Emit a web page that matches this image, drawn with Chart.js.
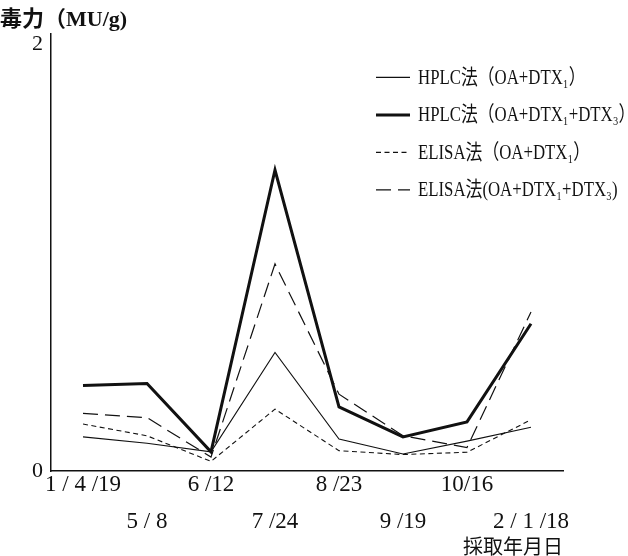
<!DOCTYPE html>
<html>
<head>
<meta charset="utf-8">
<script src="https://cdn.jsdelivr.net/npm/chart.js@4/dist/chart.umd.min.js"></script>
<style>
  html, body { margin: 0; padding: 0; background: #fff; }
  #wrap { width: 628px; height: 556px; }
</style>
</head>
<body>
<div id="wrap"><canvas id="chart" width="628" height="556"></canvas></div>
<script>
const dates = ["1 / 4 /19", "5 / 8", "6 /12", "7 /24", "8 /23", "9 /19", "10/16", "2 / 1 /18"];
const hplcOa = [0.16, 0.13, 0.09, 0.555, 0.15, 0.08, 0.14, 0.205];
const hplcOaDtx3 = [0.40, 0.41, 0.09, 1.41, 0.30, 0.16, 0.23, 0.69];
const elisaOa = [0.22, 0.165, 0.045, 0.29, 0.095, 0.077, 0.088, 0.24];
const elisaOaDtx3 = [0.27, 0.25, 0.065, 0.97, 0.36, 0.165, 0.11, 0.745];
const yTicks = [0, 2];

const serif = '"Liberation Serif", "DejaVu Serif", "Noto Sans CJK JP", serif';
const ink = "#111";

// legend drawn in the upper right of the plot, one row per dataset
const sideLegend = {
  id: "sideLegend",
  afterDraw(chart) {
    const ctx = chart.ctx;
    const area = chart.chartArea;
    const x0 = area.left + 325;
    const y0 = area.top + 44;
    const rowGap = 37.5;
    chart.data.datasets.forEach((ds, i) => {
      const y = y0 + i * rowGap;
      ctx.save();
      ctx.strokeStyle = ink;
      ctx.lineWidth = ds.borderWidth;
      ctx.setLineDash(ds.borderDash || []);
      ctx.beginPath();
      ctx.moveTo(x0, y);
      ctx.lineTo(x0 + 34, y);
      ctx.stroke();
      ctx.setLineDash([]);
      ctx.translate(x0 + 42, y);
      ctx.scale(0.8, 1);
      ctx.fillStyle = ink;
      ctx.font = "21px " + serif;
      ctx.textBaseline = "middle";
      ctx.fillText(ds.label, 0, 1);
      ctx.restore();
    });
  }
};

function line(label, data, width, dash) {
  return {
    label: label,
    data: data,
    borderColor: ink,
    borderWidth: width,
    borderDash: dash,
    pointRadius: 0,
    tension: 0,
    fill: false
  };
}

new Chart(document.getElementById("chart"), {
  type: "line",
  data: {
    labels: dates,
    datasets: [
      line("HPLC法（OA+DTX₁）", hplcOa, 1.1, []),
      line("HPLC法（OA+DTX₁+DTX₃）", hplcOaDtx3, 3, []),
      line("ELISA法（OA+DTX₁）", elisaOa, 1.1, [5, 3.5]),
      line("ELISA法(OA+DTX₁+DTX₃)", elisaOaDtx3, 1.2, [15, 7])
    ]
  },
  options: {
    responsive: false,
    animation: false,
    layout: { padding: { left: 0, right: 65, top: 0, bottom: 0 } },
    plugins: {
      legend: { display: false },
      tooltip: { enabled: false },
      title: {
        display: true,
        text: "毒力（MU/g)",
        align: "start",
        color: ink,
        font: { family: serif, size: 22, weight: "bold", lineHeight: 1.2 },
        padding: { top: 7, bottom: 0 }
      }
    },
    scales: {
      x: {
        offset: true,
        grid: { display: false, drawTicks: false },
        border: { display: true, color: ink, width: 1.5 },
        ticks: {
          autoSkip: false,
          maxRotation: 0,
          color: ink,
          padding: -5,
          font: { family: serif, size: 23, lineHeight: 1.61 },
          callback: (v, i) => (i % 2 === 0 ? dates[i] : ["", dates[i]])
        },
        title: {
          display: true,
          text: "採取年月日",
          align: "end",
          color: ink,
          font: { family: serif, size: 20, lineHeight: 1 },
          padding: { top: 0, bottom: -3 }
        },
        afterFit: (s) => { s.height = 85; }
      },
      y: {
        min: 0,
        max: 2.05,
        grid: { display: false, drawTicks: false },
        border: { display: true, color: ink, width: 1.5 },
        afterBuildTicks: (s) => { s.ticks = yTicks.map((v) => ({ value: v })); },
        ticks: {
          color: ink,
          padding: 8,
          font: { family: serif, size: 22 }
        },
        afterFit: (s) => { s.width = 51; }
      }
    }
  },
  plugins: [sideLegend]
});
</script>
</body>
</html>
